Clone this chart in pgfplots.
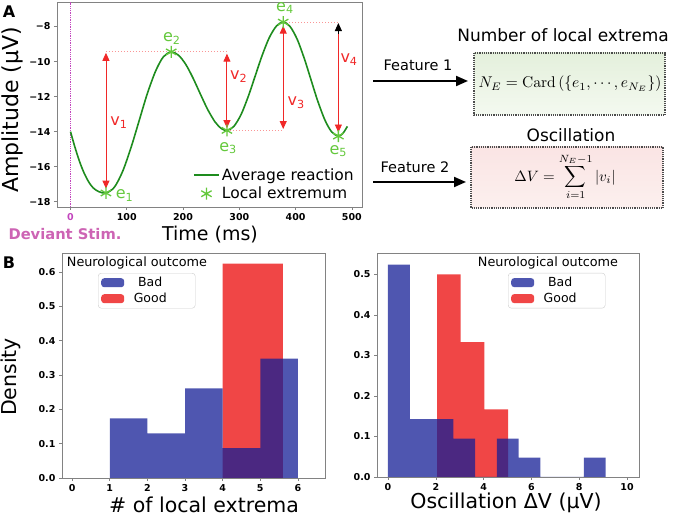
\documentclass[border=0pt]{standalone}
\usepackage{pgfplots}
\pgfplotsset{compat=1.18}
\usepackage[no-math]{fontspec}
\setmainfont{DejaVu Sans}
\usetikzlibrary{arrows.meta}
\definecolor{curvegreen}{RGB}{30,140,30}
\definecolor{markgreen}{RGB}{100,200,60}
\definecolor{arrowred}{RGB}{240,40,40}
\definecolor{dotred}{RGB}{250,150,150}
\definecolor{stimpurple}{RGB}{195,70,190}
\definecolor{stimtext}{RGB}{205,100,180}
\definecolor{barblue}{RGB}{20,30,150}
\definecolor{barred}{RGB}{240,70,70}
\definecolor{framegray}{RGB}{130,130,130}
\pgfplotsset{
  common/.style={scale only axis, axis line style={framegray, line width=0.8pt},
    tick align=outside, xtick pos=bottom, ytick pos=left, major tick length=3pt,
    tick style={framegray, line width=0.6pt},
    ticklabel style={font=\fontsize{9.5}{10}\selectfont\bfseries},
    /pgf/number format/assume math mode=true},
  histleg/.style={legend style={draw=black!20, rounded corners=3pt, fill=white,
    font=\fontsize{12.5}{14}\selectfont, inner xsep=3pt, inner ysep=2pt, row sep=1pt},
    legend cell align=left, reverse legend},
  lineleg/.style={legend image code/.code={\draw[curvegreen, line width=2pt] (0pt,0pt) -- (25pt,0pt);}},
  markleg/.style={legend image code/.code={\draw[markgreen, line width=1.3pt, mark=asterisk, mark size=6pt, only marks] plot coordinates {(12.5pt,0pt)};}},
  redleg/.style={legend image code/.code={\fill[barred] (0pt,-4.5pt) rectangle (23pt,4.5pt);}},
  blueleg/.style={legend image code/.code={\fill[barblue, fill opacity=0.75] (0pt,-4.5pt) rectangle (23pt,4.5pt);}}
}
\begin{document}
\begin{tikzpicture}[x=1pt,y=1pt]
\useasboundingbox (0,0) rectangle (675,518);

% ---------------- Panel A ----------------
\begin{axis}[common, at={(57pt,311pt)}, anchor=south west, width=305pt, height=205pt,
  xmin=-24, xmax=518, ymin=-18.3, ymax=-6.6,
  xtick={0,100,200,300,400,500}, xticklabels={\textcolor{stimpurple}{0},100,200,300,400,500},
  ytick={-18,-16,-14,-12,-10,-8}, yticklabels={−18,−16,−14,−12,−10,−8},
  clip=false,
  legend style={at={(axis description cs:0.445,0.197)}, anchor=north west, draw=none, fill=none,
    font=\fontsize{15.5}{17}\selectfont, inner sep=0pt, row sep=1pt},
  legend cell align=left]
\addplot[stimpurple, densely dotted, line width=1.3pt, forget plot] coordinates {(0,-18.3) (0,-6.6)};
\addplot[dotred, dotted, line width=1pt, forget plot] coordinates {(63,-9.45) (278,-9.45)};
\addplot[dotred, dotted, line width=1pt, forget plot] coordinates {(278,-13.93) (378,-13.93)};
\addplot[dotred, dotted, line width=1pt, forget plot] coordinates {(378,-7.75) (476,-7.75)};
\addplot[arrowred, line width=0.9pt, {Triangle[width=7pt,length=8pt]}-{Triangle[width=7pt,length=8pt]}, forget plot] coordinates {(63,-17.25) (63,-9.5)};
\addplot[arrowred, line width=0.9pt, {Triangle[width=7pt,length=8pt]}-{Triangle[width=7pt,length=8pt]}, forget plot] coordinates {(278,-9.55) (278,-13.8)};
\addplot[arrowred, line width=0.9pt, {Triangle[width=7pt,length=8pt]}-{Triangle[width=7pt,length=8pt]}, forget plot] coordinates {(378,-7.95) (378,-13.85)};
\addplot[arrowred, line width=0.9pt, -{Triangle[width=7pt,length=8pt]}, forget plot] coordinates {(476,-8.3) (476,-14.05)};
\addplot[black, line width=0.9pt, -{Triangle[width=7pt,length=8pt]}, forget plot] coordinates {(476,-8.4) (476,-7.8)};
\addplot[curvegreen, line width=1.6pt, smooth, mark=none, lineleg] coordinates {
 (0,-14.0) (8,-14.9) (16,-15.7) (24,-16.35) (32,-16.85) (40,-17.2) (50,-17.42) (63,-17.5)
 (78,-17.17) (93,-16.24) (108,-14.86) (121,-13.48) (136,-11.88) (151,-10.56) (165,-9.73) (179,-9.45)
 (192,-9.64) (205,-10.17) (218,-10.96) (231,-11.87) (244,-12.75) (257,-13.45) (268,-13.82) (278,-13.93)
 (290,-13.71) (303,-13.03) (316,-11.98) (328,-10.84) (340,-9.70) (353,-8.65) (366,-7.97) (378,-7.75)
 (390,-7.99) (403,-8.74) (416,-9.88) (427,-11.0) (439,-12.22) (452,-13.33) (464,-14.01) (476,-14.25)
 (484,-14.1) (492,-13.7)};
\addlegendentry{Average reaction}
\addplot[only marks, markgreen, mark=asterisk, mark size=6pt, line width=1.3pt, markleg] coordinates {
 (63,-17.5) (179,-9.45) (278,-13.93) (378,-7.75) (476,-14.25)};
\addlegendentry{Local extremum}
\begin{scope}[font=\fontsize{16}{16}\selectfont]
\node[text=markgreen] at (axis cs:96,-17.65) {e\textsubscript{1}};
\node[text=markgreen] at (axis cs:180,-8.7) {e\textsubscript{2}};
\node[text=markgreen] at (axis cs:280,-14.95) {e\textsubscript{3}};
\node[text=markgreen] at (axis cs:381,-6.95) {e\textsubscript{4}};
\node[text=markgreen] at (axis cs:476,-15.1) {e\textsubscript{5}};
\node[text=arrowred] at (axis cs:86,-13.5) {v\textsubscript{1}};
\node[text=arrowred] at (axis cs:299,-10.85) {v\textsubscript{2}};
\node[text=arrowred] at (axis cs:401,-12.35) {v\textsubscript{3}};
\node[text=arrowred] at (axis cs:495,-9.9) {v\textsubscript{4}};
\end{scope}
\end{axis}

% ---------------- Panel B left ----------------
\begin{axis}[common, histleg, at={(62pt,40pt)}, anchor=south west, width=263pt, height=225pt,
  xmin=-0.27, xmax=6.72, ymin=0, ymax=0.656,
  xtick={0,1,2,3,4,5,6}, ytick={0,0.1,0.2,0.3,0.4,0.5,0.6},
  yticklabel style={/pgf/number format/.cd, fixed, fixed zerofill, precision=1},
  legend style={at={(axis description cs:0.137,0.911)}, anchor=north west}]
\addplot[const plot, fill=barred, draw=none, redleg]
  coordinates {(4,0.625) (5.6,0.625)} \closedcycle;
\addlegendentry{\hspace*{10pt}\makebox[28pt][c]{Good}\hspace*{26pt}}
\addplot[const plot, fill=barblue, fill opacity=0.75, draw=none, blueleg]
  coordinates {(1,0.174) (2,0.130) (3,0.261) (4,0.087) (5,0.348) (6,0.348)} \closedcycle;
\addlegendentry{\hspace*{10pt}\makebox[28pt][c]{Bad}\hspace*{26pt}}
\end{axis}

% ---------------- Panel B right ----------------
\begin{axis}[common, histleg, at={(377pt,41pt)}, anchor=south west, width=262pt, height=224pt,
  xmin=-0.46, xmax=10.5, ymin=0, ymax=0.553,
  xtick={0,2,4,6,8,10}, ytick={0,0.1,0.2,0.3,0.4,0.5},
  yticklabel style={/pgf/number format/.cd, fixed, fixed zerofill, precision=1},
  legend style={at={(axis description cs:0.5,0.911)}, anchor=north west}]
\addplot[const plot, fill=barred, draw=none, redleg]
  coordinates {(2.05,0.5) (3.04,0.333) (4.03,0.167) (5.02,0.167)} \closedcycle;
\addlegendentry{\hspace*{10pt}\makebox[28pt][c]{Good}\hspace*{26pt}}
\addplot[const plot, fill=barblue, fill opacity=0.75, draw=none, blueleg]
  coordinates {(0,0.524) (0.91,0.143) (1.82,0.143) (2.73,0.095) (3.64,0) (4.55,0.095)
   (5.46,0.048) (6.37,0) (7.28,0) (8.19,0.048) (9.10,0.048)} \closedcycle;
\addlegendentry{\hspace*{10pt}\makebox[28pt][c]{Bad}\hspace*{26pt}}
\end{axis}

% ---------------- Texts ----------------
\node[font=\fontsize{16}{16}\selectfont\bfseries] at (9,506) {A};
\node[font=\fontsize{16}{16}\selectfont\bfseries] at (9,255) {B};
\node[rotate=90, font=\fontsize{22}{22}\selectfont] at (12,408) {Amplitude (μV)};
\node[font=\fontsize{14.7}{15}\selectfont\bfseries, text=stimtext] at (65,284) {Deviant Stim.};
\node[font=\fontsize{19}{19}\selectfont] at (210,283) {Time (ms)};
\node[rotate=90, font=\fontsize{20.5}{21}\selectfont] at (11,141) {Density};
\node[font=\fontsize{20.5}{21}\selectfont] at (204,13) {\# of local extrema};
\node[font=\fontsize{20.5}{21}\selectfont] at (506,15) {Oscillation ΔV (μV)};
\node[font=\fontsize{12.8}{14}\selectfont] at (137,255) {Neurological outcome};
\node[font=\fontsize{12.8}{14}\selectfont] at (548,255) {Neurological outcome};

\node[font=\fontsize{17}{17}\selectfont] at (563,483) {Number of local extrema};
\node[font=\fontsize{17}{17}\selectfont] at (571,383) {Oscillation};
\node[font=\fontsize{14.5}{15}\selectfont] at (418,453) {Feature 1};
\node[font=\fontsize{14.5}{15}\selectfont] at (415,351) {Feature 2};
\draw[line width=2pt, -{Triangle[width=10pt,length=12pt]}] (373,437) -- (468,437);
\draw[line width=2pt, -{Triangle[width=10pt,length=12pt]}] (373,336) -- (466,336);

\shade[top color={rgb,255:red,228;green,240;blue,220}, bottom color={rgb,255:red,244;green,249;blue,240}]
  (474,465) rectangle (665,403);
\draw[densely dotted, line width=1.2pt, black!70] (474,465) rectangle (665,403);
\shade[top color={rgb,255:red,250;green,228;blue,228}, bottom color={rgb,255:red,252;green,240;blue,238}]
  (471,371) rectangle (663,310);
\draw[densely dotted, line width=1.2pt, black!70] (471,371) rectangle (663,310);
\node[scale=1.55] at (570,434) {$N_E = \mathrm{Card}\left(\{e_1,\cdots,e_{N_E}\}\right)$};
\node[scale=1.5] at (565,341) {$\Delta V = \displaystyle\sum_{i=1}^{N_E-1} |v_i|$};
\end{tikzpicture}
\end{document}
